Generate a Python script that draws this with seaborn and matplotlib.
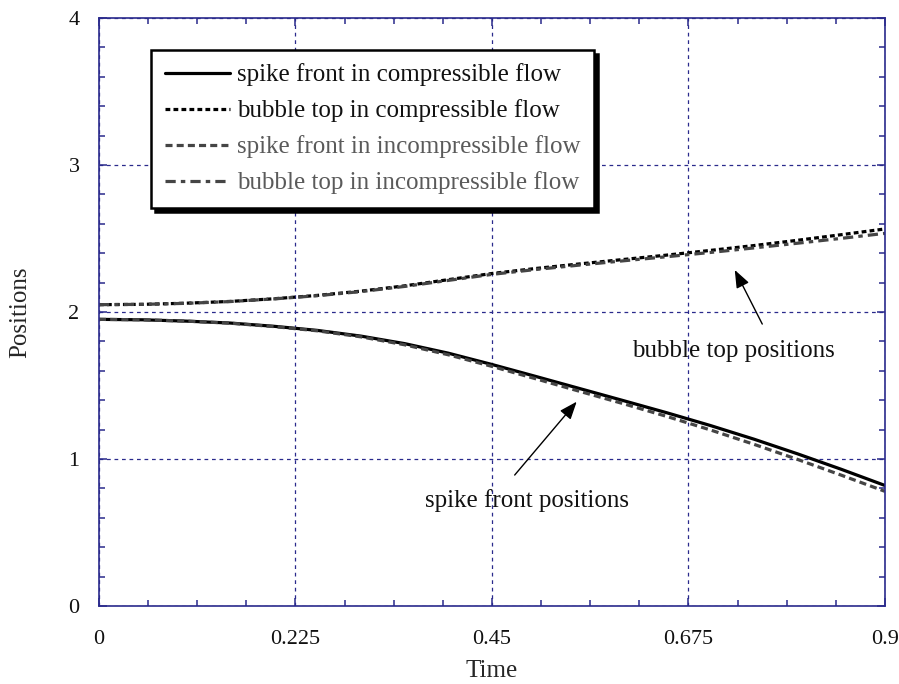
import numpy as np
import pandas as pd
import matplotlib
matplotlib.use("Agg")
import matplotlib.pyplot as plt
from matplotlib.ticker import MultipleLocator
import seaborn as sns

# Sample times and tracked interface positions
time = [0.0, 0.05, 0.1, 0.15, 0.2, 0.25, 0.3, 0.35, 0.4, 0.45,
        0.5, 0.55, 0.6, 0.65, 0.7, 0.75, 0.8, 0.85, 0.9]
spike_comp = [1.950, 1.947, 1.938, 1.925, 1.903, 1.875, 1.836, 1.785, 1.720, 1.643,
              1.562, 1.480, 1.398, 1.315, 1.228, 1.135, 1.035, 0.930, 0.820]
bubble_comp = [2.050, 2.052, 2.060, 2.072, 2.090, 2.113, 2.142, 2.178, 2.220, 2.262,
               2.296, 2.327, 2.357, 2.387, 2.419, 2.452, 2.488, 2.526, 2.565]
spike_incomp = [1.950, 1.947, 1.938, 1.924, 1.901, 1.872, 1.831, 1.777, 1.709, 1.630,
                1.546, 1.461, 1.377, 1.290, 1.198, 1.100, 0.997, 0.890, 0.780]
bubble_incomp = [2.050, 2.052, 2.059, 2.071, 2.089, 2.111, 2.139, 2.174, 2.215, 2.256,
                 2.289, 2.319, 2.348, 2.376, 2.405, 2.436, 2.468, 2.501, 2.535]

labels = ["spike front in compressible flow",
          "bubble top in compressible flow",
          "spike front in incompressible flow",
          "bubble top in incompressible flow"]

x_ticks = [0, 0.225, 0.45, 0.675, 0.9]
x_ticklabels = ["0", "0.225", "0.45", "0.675", "0.9"]
y_ticks = [0, 1, 2, 3, 4]

sns.set_theme(style="white")
plt.rcParams["font.family"] = ["Liberation Serif", "DejaVu Serif"]

axis_col = "#2a2a8c"

fig = plt.figure(figsize=(8.99, 6.84), dpi=100)
ax = fig.add_axes([0.1101, 0.114, 0.8743, 0.8597])

series = [spike_comp, bubble_comp, spike_incomp, bubble_incomp]
colors = ["black", "black", "#454545", "#454545"]
dashes = [None, (1.5, 1.0), (2.2, 1.3), (3.2, 1.6, 1.4, 1.6)]

for vals, lab, col, dsh in zip(series, labels, colors, dashes):
    df = pd.DataFrame({"Time": time, "Positions": vals})
    sns.lineplot(data=df, x="Time", y="Positions", ax=ax, color=col,
                 linewidth=2.3, label=lab, sort=False)
    line = ax.get_lines()[-1]
    if dsh is not None:
        line.set_dashes(dsh)

ax.set_xlim(0, 0.9)
ax.set_ylim(0, 4)
ax.set_xticks(x_ticks)
ax.set_xticklabels(x_ticklabels)
ax.set_yticks(y_ticks)
ax.xaxis.set_minor_locator(MultipleLocator(0.05625))
ax.yaxis.set_minor_locator(MultipleLocator(0.2))

ax.grid(True, which="major", color=axis_col, linestyle=(0, (3, 3)), linewidth=0.9)
ax.set_axisbelow(True)

for sp in ax.spines.values():
    sp.set_color(axis_col)
    sp.set_linewidth(1.2)

ax.tick_params(which="both", direction="in", top=True, right=True, bottom=True, left=True,
               color=axis_col, labelsize=16, labelcolor="#111111")
ax.tick_params(which="major", length=6, width=1.1)
ax.tick_params(which="minor", length=4.2, width=1.1)
ax.tick_params(axis="x", which="major", pad=17)
ax.tick_params(axis="y", which="major", pad=14)

ax.set_xlabel("Time", fontsize=18, labelpad=8)
ax.set_ylabel("Positions", fontsize=18, labelpad=27)

leg = ax.legend(loc="upper left", bbox_to_anchor=(0.066, 0.946), fontsize=18,
                frameon=True, fancybox=False, edgecolor="black",
                handlelength=2.6, handletextpad=0.28, labelspacing=0.52,
                borderpad=0.55, borderaxespad=0.0,
                shadow={"ox": 3, "oy": -3, "color": "black", "alpha": 1.0})
leg.get_frame().set_linewidth(1.8)
for txt, col in zip(leg.get_texts(), ["#111111", "#111111", "#5a5a5a", "#5a5a5a"]):
    txt.set_color(col)

arrow_kw = dict(arrowstyle="-|>,head_length=0.9,head_width=0.35", color="black",
                lw=1.0, shrinkA=0, shrinkB=0)
ax.annotate("", xy=(0.728, 2.286), xytext=(0.7595, 1.918), arrowprops=arrow_kw)
ax.text(0.727, 1.735, "bubble top positions", fontsize=18, ha="center", va="center",
        color="#111111")
ax.annotate("", xy=(0.547, 1.39), xytext=(0.476, 0.891), arrowprops=arrow_kw)
ax.text(0.490, 0.721, "spike front positions", fontsize=18, ha="center", va="center",
        color="#111111")

fig.savefig("out.png", dpi=100)
